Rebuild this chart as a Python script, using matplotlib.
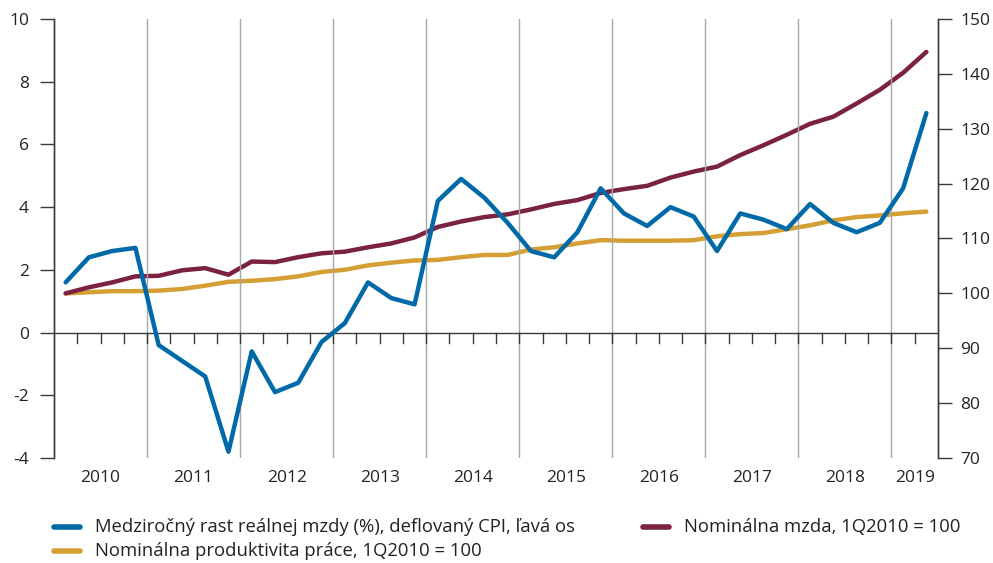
import matplotlib
matplotlib.use("Agg")
import matplotlib.pyplot as plt
from matplotlib.lines import Line2D
from matplotlib.transforms import blended_transform_factory
import numpy as np

plt.rcParams['font.family'] = ['Open Sans', 'DejaVu Sans']

years = ["2010", "2011", "2012", "2013", "2014", "2015", "2016", "2017", "2018", "2019"]
quarters_per_year = [4, 4, 4, 4, 4, 4, 4, 4, 4, 2]

real_wage_growth = [1.6, 2.4, 2.6, 2.7, -0.4, -0.9, -1.4, -3.8,
                    -0.6, -1.9, -1.6, -0.3, 0.3, 1.6, 1.1, 0.9,
                    4.2, 4.9, 4.3, 3.5, 2.6, 2.4, 3.2, 4.6,
                    3.8, 3.4, 4.0, 3.7, 2.6, 3.8, 3.6, 3.3,
                    4.1, 3.5, 3.2, 3.5, 4.6, 7.0]
nominal_wage = [100.0, 101.1, 102.0, 103.1, 103.2, 104.2, 104.6, 103.4,
                105.8, 105.7, 106.6, 107.3, 107.6, 108.4, 109.1, 110.2,
                112.1, 113.1, 113.9, 114.4, 115.3, 116.3, 117.0, 118.3,
                119.0, 119.6, 121.1, 122.2, 123.1, 125.2, 127.0, 128.9,
                130.9, 132.2, 134.6, 137.1, 140.2, 144.0]
nominal_productivity = [100.0, 100.2, 100.4, 100.4, 100.5, 100.8, 101.4, 102.1,
                        102.3, 102.6, 103.1, 103.9, 104.3, 105.1, 105.6, 106.0,
                        106.1, 106.6, 107.0, 107.0, 108.0, 108.4, 109.1, 109.7,
                        109.6, 109.6, 109.6, 109.7, 110.4, 110.8, 111.0, 111.7,
                        112.4, 113.3, 113.9, 114.2, 114.6, 114.9]

labels = ["Medziročný rast reálnej mzdy (%), deflovaný CPI, ľavá os",
          "Nominálna mzda, 1Q2010 = 100",
          "Nominálna produktivita práce, 1Q2010 = 100"]
c_blue = "#006aa8"
c_maroon = "#7b2142"
c_gold = "#d49f35"
spine_c = "#3a3a3a"
grid_c = "#a8a8a8"

n = len(real_wage_growth)
x = np.arange(n) + 0.5

fig = plt.figure(figsize=(9.93, 5.63), dpi=100)
ax = fig.add_axes([54/993, 1-458/563, (938-54)/993, (458-19)/563])
ax2 = ax.twinx()

ax.set_xlim(0, n)
ax.set_ylim(-4, 10)
ax2.set_ylim(70, 150)

# year gridlines
bounds = np.cumsum(quarters_per_year)
for b in bounds[:-1]:
    ax.axvline(b, color=grid_c, lw=1.0, zorder=1)

# zero axis line with quarter ticks
ax.axhline(0, color=spine_c, lw=1.0, zorder=2)
for q in range(1, n):
    ax.plot([q, q], [0, -10/31.36], color=spine_c, lw=1.0, zorder=2, clip_on=False)

ax2.plot(x, nominal_productivity, color=c_gold, lw=3.2, solid_capstyle='round', zorder=3)
ax2.plot(x, nominal_wage, color=c_maroon, lw=3.2, solid_capstyle='round', zorder=3)
ax.plot(x, real_wage_growth, color=c_blue, lw=3.2, solid_capstyle='round', zorder=4)
ax.set_zorder(ax2.get_zorder() + 1)
ax.patch.set_visible(False)

for a in (ax, ax2):
    a.spines['top'].set_visible(False)
    a.spines['bottom'].set_visible(False)
    for s in ('left', 'right'):
        a.spines[s].set_color(spine_c)
        a.spines[s].set_linewidth(1.0)

ax.set_yticks(np.arange(-4, 11, 2))
ax.set_yticklabels([str(v) for v in range(-4, 11, 2)])
ax2.set_yticks(np.arange(70, 151, 10))
ax.tick_params(axis='y', direction='out', length=10, width=1.0, color=spine_c,
               labelsize=12.5, labelcolor="#222222", pad=8)
ax2.tick_params(axis='y', direction='out', length=10, width=1.0, color=spine_c,
                labelsize=12.5, labelcolor="#222222", pad=6)
ax.set_xticks([])
ax2.set_xticks([])

# year labels
tr = blended_transform_factory(ax.transData, ax.transAxes)
start = 0
for yr, nq in zip(years, quarters_per_year):
    ax.text(start + nq / 2, -20/439, yr, transform=tr, ha='center', va='center',
            fontsize=12.5, color="#222222")
    start += nq

# legend (manual)
items = [(c_blue, labels[0], 54, 527), (c_maroon, labels[1], 643, 527), (c_gold, labels[2], 54, 551)]
for col, lab, px, py in items:
    fy = 1 - py / 563
    fig.add_artist(Line2D([px/993, (px+26)/993], [fy, fy], color=col, lw=4,
                          solid_capstyle='round', transform=fig.transFigure))
    fig.text((px + 41)/993, fy, lab, ha='left', va='center', fontsize=13.3, color="#222222")

fig.savefig("out.png", dpi=100)
